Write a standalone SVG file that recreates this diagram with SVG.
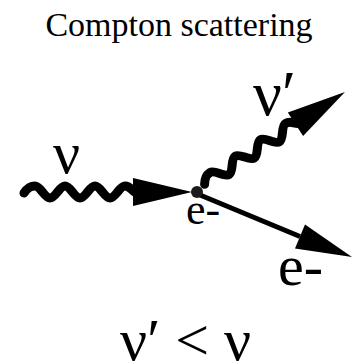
<svg xmlns="http://www.w3.org/2000/svg" xmlns:xlink="http://www.w3.org/1999/xlink" width="354" height="364" viewBox="0 0 354 364">
<style>
text{font-family:'Liberation Serif','DejaVu Serif',serif;fill:#000}
.wave{fill:none;stroke:#000;stroke-width:9;stroke-linecap:round;stroke-linejoin:round}
.head{fill:#000}
</style>
<defs>
<g id="photon">
<path class="wave" d="M4,1 C8,-5 11,-6 15,-6 C20.5,-6 24.5,6 30,6 S39.5,-6 45,-6 S54.5,6 60,6 S69.5,-6 75,-6 S84.5,6 90,6 S99.5,-6 105,-6 C110.5,-6 112,-1 116,1"/>
<polygon class="head" points="113,-14 172,0 113,14"/>
</g>
</defs>
<rect width="354" height="364" fill="#fff"/>
<g id="title"><text font-family="Liberation Serif, serif" x="179" y="36" font-size="34" text-anchor="middle">Compton scattering</text></g>
<g id="connectors">
<use xlink:href="#photon" href="#photon" transform="translate(20,192)"/>
<use xlink:href="#photon" href="#photon" transform="translate(200.7,185.7) rotate(-33)"/>
<g id="electron-out">
<line x1="200" y1="195" x2="300" y2="236.5" stroke="#000" stroke-width="5"/>
<polygon class="head" points="295,248.6 352,257 305,224.4"/>
</g>
</g>
<g id="electron"><circle cx="197" cy="192" r="6" fill="#1a1a1a"/>
<text x="186" y="224" font-size="44">e-</text></g>
<g id="label-nu"><text x="53" y="173" font-size="60">ν</text></g>
<g id="label-nu-prime"><text x="253" y="115" font-size="64">ν′</text></g>
<g id="label-e-out"><text x="278" y="285" font-size="58">e-</text></g>
<g id="relation"><text x="120" y="360" font-size="60">ν′ &lt; ν</text></g>
</svg>
